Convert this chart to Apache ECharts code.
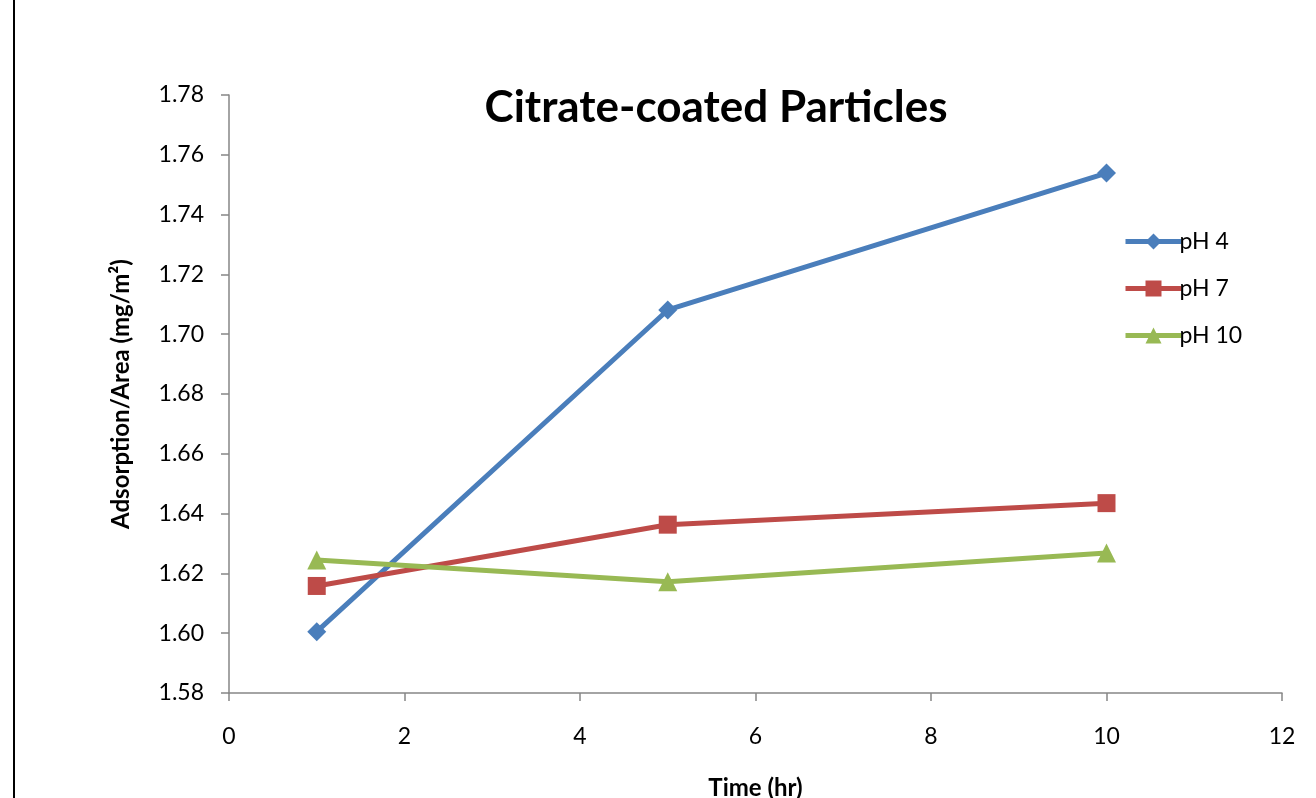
<!DOCTYPE html>
<html><head><meta charset="utf-8">
<script src="https://cdn.jsdelivr.net/npm/echarts@6/dist/echarts.min.js"></script>
<style>html,body{margin:0;padding:0;background:#fff}#c{width:1316px;height:798px}</style>
</head><body><div id="c"></div>
<script>
const times = [1, 5, 10];
const pH4 = [1.6005, 1.7081, 1.7539];
const pH7 = [1.6158, 1.6363, 1.6435];
const pH10 = [1.6245, 1.6172, 1.6268];
const seriesNames = ['pH 4', 'pH 7', 'pH 10'];
const title = 'Citrate-coated Particles';
const xName = 'Time (hr)';
const yName = 'Adsorption/Area (mg/m²)';

const font = 'Lato, "Open Sans", sans-serif';
const colors = ['#4a7ebb', '#be4b48', '#98b954'];
const symbols = ['diamond', 'rect', 'triangle'];
const sizes = [19, 18, 19];
const values = [pH4, pH7, pH10];

const chart = echarts.init(document.getElementById('c'));
chart.setOption({
  animation: false,
  title: {text: title, left: 711, top: 81, textAlign: 'center',
    textStyle: {fontFamily: font, fontSize: 44, fontWeight: 'bold', color: '#000'}},
  grid: {left: 229, right: 34, top: 95, bottom: 105, outerBoundsMode: 'none', containLabel: false},
  legend: {
    orient: 'vertical', left: 1118, top: 225, itemGap: 24, itemWidth: 56, itemHeight: 20,
    lineStyle: {width: 5},
    textStyle: {fontFamily: font, fontSize: 23, color: '#000', padding: [0,0,0,-7]},
    data: seriesNames
  },
  xAxis: {
    type: 'value', min: 0, max: 12, interval: 2,
    name: xName, nameLocation: 'middle', nameGap: 83,
    nameTextStyle: {fontFamily: font, fontSize: 24, fontWeight: 'bold', color: '#000'},
    axisLine: {lineStyle: {color: '#868686', width: 1.5}},
    axisTick: {show: true, inside: false, length: 8, lineStyle: {color: '#868686', width: 1.5}},
    axisLabel: {fontFamily: font, fontSize: 23, color: '#000', margin: 32},
    splitLine: {show: false}
  },
  yAxis: {
    type: 'value', min: 1.58, max: 1.78, interval: 0.02,
    name: yName, nameLocation: 'middle', nameGap: 96, nameRotate: 90,
    nameTextStyle: {fontFamily: font, fontSize: 24, fontWeight: 'bold', color: '#000'},
    axisLine: {show: true, lineStyle: {color: '#868686', width: 1.5}},
    axisTick: {show: true, inside: false, length: 8, lineStyle: {color: '#868686', width: 1.5}},
    axisLabel: {fontFamily: font, fontSize: 23, color: '#000', margin: 25,
      formatter: v => v.toFixed(2)},
    splitLine: {show: false}
  },
  graphic: [{type: 'line', shape: {x1: 14, y1: 0, x2: 14, y2: 798},
    style: {stroke: '#000', lineWidth: 2}}],
  series: seriesNames.map((n, i) => ({
    name: n, type: 'line',
    data: times.map((t, j) => [t, values[i][j]]),
    symbol: symbols[i], symbolSize: sizes[i],
    lineStyle: {color: colors[i], width: 5},
    itemStyle: {color: colors[i]}
  }))
});
</script></body></html>
